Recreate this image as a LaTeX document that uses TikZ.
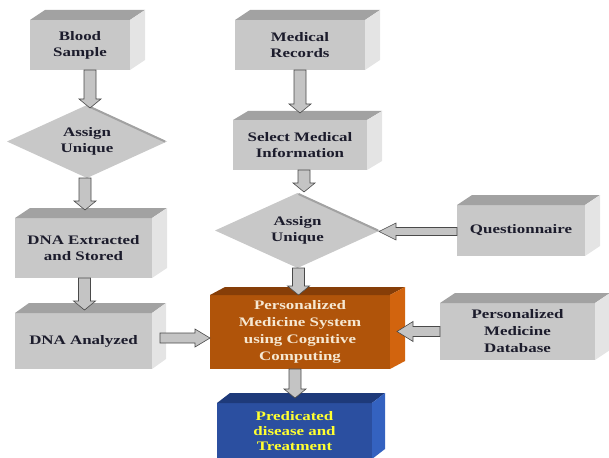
\documentclass[tikz,border=0pt]{standalone}
\usepackage{fontspec}
\setmainfont{Liberation Serif}[FakeStretch=1.3]
\usetikzlibrary{shapes.geometric,calc}
\definecolor{gfront}{HTML}{C8C8C8}
\definecolor{gtop}{HTML}{A2A2A2}
\definecolor{gside}{HTML}{E4E4E4}
\definecolor{ofront}{HTML}{B0540A}
\definecolor{otop}{HTML}{863E08}
\definecolor{oside}{HTML}{D2640E}
\definecolor{bfront}{HTML}{2B4FA0}
\definecolor{btop}{HTML}{1E3A7A}
\definecolor{bside}{HTML}{3462C0}
\definecolor{txt}{HTML}{1C1C2C}
\definecolor{otxt}{HTML}{F6E8D2}
\definecolor{ytxt}{HTML}{FFFF30}
\definecolor{afill}{HTML}{C4C4C4}
\definecolor{aedge}{HTML}{4A4A4A}
% faces of a 3D box: node name, dx, dy, top colour, side colour
\newcommand\cubefaces[5]{%
  \fill[#4] (#1.north west) -- ++(#2,#3) -- ($(#1.north east)+(#2,#3)$) -- (#1.north east) -- cycle;
  \fill[#5] (#1.north east) -- ++(#2,#3) -- ($(#1.south east)+(#2,#3)$) -- (#1.south east) -- cycle;
}
% block arrow: from, to, shaft half width, head half width, head length
\newcommand\fatarrow[5]{%
  \draw[draw=aedge, fill=afill, line width=0.6pt, line join=miter]
    let \p1=(#1), \p2=(#2), \n1={atan2(\y2-\y1,\x2-\x1)}, \n2={veclen(\x2-\x1,\y2-\y1)} in
    [shift={(\p1)}, rotate=\n1]
    (0pt,-#3pt) -- ({(\n2-#5)*1pt},-#3pt) -- ({(\n2-#5)*1pt},-#4pt) -- ({\n2*1pt},0pt)
    -- ({(\n2-#5)*1pt},#4pt) -- ({(\n2-#5)*1pt},#3pt) -- (0pt,#3pt) -- cycle;
}
\tikzset{
  box/.style={rectangle, fill=gfront, text=txt, align=center, inner sep=0pt, outer sep=0pt,
    font=\fontsize{13}{16}\selectfont\bfseries},
  decision/.style={diamond, shape aspect=2, fill=gfront, text=txt, align=center, inner sep=0pt,
    outer sep=0pt, font=\fontsize{13}{16}\selectfont\bfseries},
}
\begin{document}
\begin{tikzpicture}[x=1pt, y=-1pt]
\useasboundingbox (0,0) rectangle (609,457);
% nodes (front faces)
\node[box, minimum width=100pt, minimum height=50pt] (blood) at (80,45) {Blood\\Sample};
\node[box, minimum width=130pt, minimum height=50pt] (records) at (300,45) {Medical\\Records};
\node[box, minimum width=134pt, minimum height=50pt] (select) at (300,145) {Select Medical\\Information};
\node[decision, minimum width=160pt, minimum height=73pt] (d1) at (87,141.5) {Assign\\Unique};
\node[box, minimum width=137pt, minimum height=60pt] (extracted) at (83.5,248) {DNA Extracted\\and Stored};
\node[box, minimum width=137pt, minimum height=56pt] (analyzed) at (83.5,341) {DNA Analyzed};
\node[decision, minimum width=165pt, minimum height=75pt] (d2) at (297.5,230.5) {Assign\\Unique};
\node[box, minimum width=128pt, minimum height=51pt] (quest) at (521,230.5) {Questionnaire};
\node[box, fill=ofront, text=otxt, minimum width=180pt, minimum height=74pt,
  font=\fontsize{13}{17}\selectfont\bfseries] (system) at (300,332)
  {Personalized\\Medicine System\\using Cognitive\\Computing};
\node[box, minimum width=155pt, minimum height=57pt, font=\fontsize{13}{17}\selectfont\bfseries]
  (database) at (517.5,331.5) {Personalized\\Medicine\\Database};
\node[box, fill=bfront, text=ytxt, minimum width=155pt, minimum height=56pt,
  font=\fontsize{13}{15}\selectfont\bfseries] (pred) at (294.5,431) {Predicated\\disease and\\Treatment};
% 3D faces
\cubefaces{blood}{15}{-10}{gtop}{gside}
\cubefaces{records}{15}{-10}{gtop}{gside}
\cubefaces{select}{15}{-9}{gtop}{gside}
\cubefaces{extracted}{15}{-10}{gtop}{gside}
\cubefaces{analyzed}{14}{-10}{gtop}{gside}
\cubefaces{quest}{15}{-10}{gtop}{gside}
\cubefaces{database}{15}{-10}{gtop}{gside}
\cubefaces{system}{15}{-8}{otop}{oside}
\cubefaces{pred}{13}{-10}{btop}{bside}
% diamond edge shading
\draw[gtop, line width=2pt] ($(d1.north)+(1,1)$) -- ($(d1.east)+(-2,0)$);
\draw[gtop, line width=2pt] ($(d2.north)+(1,1)$) -- ($(d2.east)+(-2,0)$);
% connectors
\coordinate (c1) at ($(blood.south -| d1.north)+(3,0)$);
\coordinate (c1e) at ($(d1.north)+(3,3)$);
\fatarrow{c1}{c1e}{6}{11}{9}
\coordinate (c2) at ($(extracted.north -| d1.south)+(-2,-8)$);
\fatarrow{d1.south -| c2}{c2}{6}{11}{9}
\coordinate (c3) at ($(extracted.south)+(1,0)$);
\fatarrow{c3}{$(analyzed.north -| c3)+(0,-3)$}{6}{11}{9}
\fatarrow{records.south}{$(select.north)+(0,-7)$}{6}{11}{9}
\coordinate (c5) at ($(select.south)+(4,0)$);
\fatarrow{c5}{$(d2.north -| c5)+(0,-1)$}{6}{11}{9}
\coordinate (c6) at ($(d2.south)+(1,0)$);
\fatarrow{c6}{system.north -| c6}{6}{11}{9}
\coordinate (c7) at ($(quest.west)+(0,1)$);
\fatarrow{c7}{$(d2.east |- c7)+(-1,0)$}{4}{8.5}{17}
\coordinate (c8) at (database.west);
\fatarrow{c8}{$(system.east |- c8)+(7,0)$}{5}{10}{16}
\coordinate (c9) at ($(analyzed.east)+(8,-3)$);
\fatarrow{c9}{system.west |- c9}{5}{9}{15}
\coordinate (c10) at ($(system.south)+(-5,0)$);
\fatarrow{c10}{$(pred.north -| c10)+(0,-5)$}{6}{11}{9}
\end{tikzpicture}
\end{document}
